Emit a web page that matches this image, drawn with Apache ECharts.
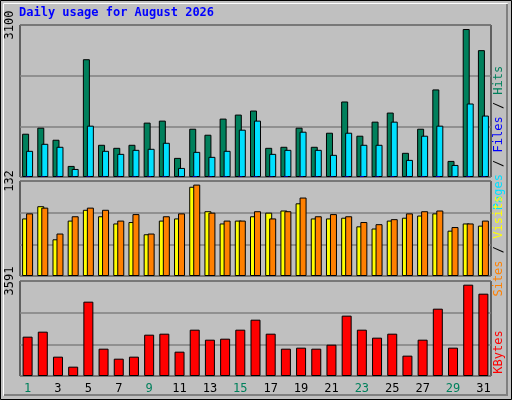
<!DOCTYPE html>
<html><head><meta charset="utf-8">
<script src="https://cdn.jsdelivr.net/npm/echarts@6/dist/echarts.min.js"></script>
<style>html,body{margin:0;padding:0;background:#c0c0c0}#c{width:512px;height:400px}</style>
</head><body><div id="c"></div>
<script>
const days = ['1','2','3','4','5','6','7','8','9','10','11','12','13','14','15','16','17','18','19','20','21','22','23','24','25','26','27','28','29','30','31'];
const weekend = ['1','2','8','9','15','16','22','23','29','30'];
const hits = [883,1006,760,226,2402,657,595,657,1109,1150,390,985,862,1191,1273,1355,595,616,1006,616,903,1540,842,1129,1314,493,985,1786,328,3018,2587];
const files = [534,677,616,164,1047,534,472,554,575,698,185,513,411,534,965,1150,472,554,924,554,452,903,657,657,1129,349,842,1047,246,1499,1253];
const pages = [12,10,11,6,14,9,8,10,13,12,7,18,10,12,13,15,10,16,11,9,10,14,20,12,13,8,11,21,7,16,12];
const sites = [80,97,51,77,92,83,73,75,58,77,80,124,90,73,77,83,88,91,101,80,80,81,69,66,77,81,84,87,63,73,70];
const visits = [87,95,59,83,95,92,77,86,59,83,87,127,88,77,77,90,80,90,109,83,86,83,75,72,79,87,90,91,68,73,77];
const kbytes = [1487,1676,731,353,2810,1033,655,731,1562,1600,920,1751,1373,1411,1751,2129,1600,1033,1071,1033,1184,2281,1751,1449,1600,769,1373,2545,1071,3452,3112];
const maxHits = 3100, maxSites = 132, maxKB = 3591;

const grids = [
  {left:20,right:21,top:25,height:152},
  {left:20,right:21,top:181,height:95},
  {left:20,right:21,top:281,height:95}
];
const mono = 'DejaVu Sans Mono';
function xa(i, show, extra){
  return Object.assign({type:'category',data:days,gridIndex:i,
    axisLine:{show:false},axisTick:{show:false},
    axisLabel:{show:show,fontFamily:mono,fontSize:12,margin:7,
      color:(v)=>weekend.includes(v)?'#00805c':'#000'}},extra||{});
}
function ya(i,max){
  return {type:'value',gridIndex:i,min:0,max:max,interval:max/3,
    axisLine:{show:false},axisTick:{show:false},
    splitLine:{lineStyle:{color:'#808080',width:1.5}},
    axisLabel:{rotate:90,fontFamily:mono,fontSize:12,color:'#000',margin:4,verticalAlign:'bottom',
      formatter:(v)=>Math.abs(v-max)<1e-6?String(max):''}};
}
const bs = {borderColor:'#000',borderWidth:1};
const option = {
  backgroundColor:'#c0c0c0',
  animation:false,
  grid:grids.map(g=>Object.assign({show:true,borderColor:'#000',borderWidth:1,backgroundColor:'#c0c0c0'},g)),
  xAxis:[xa(0,false),xa(1,false),xa(2,true),xa(0,false,{show:false})],
  yAxis:[ya(0,maxHits),ya(1,maxSites),ya(2,maxKB),Object.assign(ya(0,maxHits),{show:false})],
  series:[
    {type:'bar',name:'Hits',data:hits,xAxisIndex:0,yAxisIndex:0,barWidth:7,barGap:'-43%',itemStyle:Object.assign({color:'#00805c'},bs)},
    {type:'bar',name:'Files',data:files,xAxisIndex:0,yAxisIndex:0,barWidth:7,barGap:'-43%',itemStyle:Object.assign({color:'#00e0ff'},bs)},
    {type:'bar',name:'Pages',data:pages,xAxisIndex:3,yAxisIndex:3,barWidth:4,itemStyle:{color:'#0000c0'},barCategoryGap:'0%'},
    {type:'bar',name:'Sites',data:sites,xAxisIndex:1,yAxisIndex:1,barWidth:7,barGap:'-43%',itemStyle:Object.assign({color:'#ffff00'},bs)},
    {type:'bar',name:'Visits',data:visits,xAxisIndex:1,yAxisIndex:1,barWidth:7,barGap:'-43%',itemStyle:Object.assign({color:'#ff8000'},bs)},
    {type:'bar',name:'KBytes',data:kbytes,xAxisIndex:2,yAxisIndex:2,barWidth:10,itemStyle:Object.assign({color:'#ff0000'},bs)}
  ],
  graphic:[
    {type:'rect',shape:{x:0.5,y:0.5,width:511,height:399},style:{fill:'none',stroke:'#000',lineWidth:1},z:100},
    {type:'rect',shape:{x:3.5,y:3.5,width:504,height:392},style:{fill:'none',stroke:'#ffffff',lineWidth:1},z:100},
    {type:'polyline',shape:{points:[[507,4],[507,395],[4,395]]},style:{stroke:'#808080',lineWidth:2,fill:'none'},z:101},
    {type:'text',left:19,top:7,style:{text:'Daily usage for August 2026',font:'bold 12px "DejaVu Sans Mono"',fill:'#0000ff'}},
    {type:'text',x:493,y:138,rotation:Math.PI/2,style:{text:'{a|Pages} {s|/} {b|Files} {s|/} {c|Hits}',font:'12px "DejaVu Sans Mono"',
      align:'center',verticalAlign:'top',
      rich:{a:{fill:'#00e0ff',font:'12px "DejaVu Sans Mono"'},b:{fill:'#0000ff',font:'12px "DejaVu Sans Mono"'},c:{fill:'#00805c',font:'12px "DejaVu Sans Mono"'},s:{fill:'#000',font:'12px "DejaVu Sans Mono"'}}}},
    {type:'text',x:493,y:246,rotation:Math.PI/2,style:{text:'{a|Sites} {s|/} {b|Visits}',font:'12px "DejaVu Sans Mono"',
      align:'center',verticalAlign:'top',
      rich:{a:{fill:'#ff8000',font:'12px "DejaVu Sans Mono"'},b:{fill:'#ffff00',font:'12px "DejaVu Sans Mono"'},s:{fill:'#000',font:'12px "DejaVu Sans Mono"'}}}},
    {type:'text',x:493,y:352,rotation:Math.PI/2,style:{text:'KBytes',font:'12px "DejaVu Sans Mono"',fill:'#ff0000',align:'center',verticalAlign:'top'}}
  ]
};
echarts.init(document.getElementById('c')).setOption(option);
</script></body></html>
